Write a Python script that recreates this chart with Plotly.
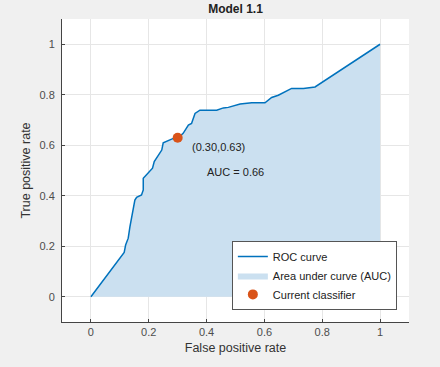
import plotly.graph_objects as go

fpr = [0.0, 0.115, 0.12, 0.129, 0.135, 0.144, 0.152, 0.158, 0.175, 0.181, 0.181,
       0.213, 0.219, 0.245, 0.25, 0.285, 0.302, 0.319, 0.325, 0.337, 0.348, 0.354,
       0.36, 0.377, 0.435, 0.458, 0.475, 0.516, 0.556, 0.602, 0.625, 0.648, 0.689,
       0.694, 0.735, 0.775, 1.0]
tpr = [0.0, 0.175, 0.205, 0.232, 0.278, 0.33, 0.383, 0.394, 0.403, 0.423, 0.469,
       0.509, 0.535, 0.581, 0.61, 0.627, 0.63, 0.647, 0.66, 0.68, 0.686, 0.706,
       0.726, 0.739, 0.739, 0.748, 0.75, 0.763, 0.768, 0.768, 0.789, 0.798, 0.821,
       0.825, 0.825, 0.831, 1.0]
current_fpr = [0.30]
current_tpr = [0.63]
auc_value = 0.66
tick_vals = [0, 0.2, 0.4, 0.6, 0.8, 1]
tick_text = ["0", "0.2", "0.4", "0.6", "0.8", "1"]

font_family = "Liberation Sans, Arial, sans-serif"

fig = go.Figure()
fig.add_trace(go.Scatter(
    x=fpr, y=tpr, mode="lines", fill="tozeroy",
    fillcolor="#cbe0f0", line=dict(width=0, color="#cbe0f0"),
    name="Area under curve (AUC)", legendrank=2, hoverinfo="skip"))
fig.add_trace(go.Scatter(
    x=fpr, y=tpr, mode="lines", line=dict(color="#0072BD", width=1.5),
    name="ROC curve", legendrank=1))
fig.add_trace(go.Scatter(
    x=current_fpr, y=current_tpr, mode="markers",
    marker=dict(color="#D95319", size=10),
    name="Current classifier", legendrank=3))

fig.add_annotation(x=current_fpr[0] + 0.043, y=current_tpr[0] - 0.035,
                   text=f"({current_fpr[0]:.2f},{current_tpr[0]:.2f})",
                   showarrow=False, xanchor="left", yanchor="middle",
                   font=dict(size=11, color="#222222", family=font_family))
fig.add_annotation(x=current_fpr[0] + 0.094, y=current_tpr[0] - 0.136,
                   text=f"AUC = {auc_value:.2f}",
                   showarrow=False, xanchor="left", yanchor="middle",
                   font=dict(size=11, color="#222222", family=font_family))

axis_common = dict(
    range=[-0.1, 1.1], tickvals=tick_vals, ticktext=tick_text,
    showgrid=True, gridcolor="#e6e6e6", gridwidth=1,
    zeroline=False, showline=True, linecolor="#444444", linewidth=1,
    ticks="inside", ticklen=3, tickcolor="#444444",
    tickfont=dict(size=11, color="#4d4d4d", family=font_family),
    mirror=False,
)

fig.update_layout(
    width=440, height=367,
    paper_bgcolor="#f0f0f0", plot_bgcolor="#ffffff",
    margin=dict(l=62, r=31, t=19, b=45),
    title=dict(text="<b>Model 1.1</b>", x=0.5, xanchor="center", xref="paper",
               y=0.975, yanchor="middle",
               font=dict(size=12, color="#222222", family=font_family)),
    xaxis=dict(title=dict(text="False positive rate", standoff=6,
                          font=dict(size=12.5, color="#333333", family=font_family)),
               **axis_common),
    yaxis=dict(title=dict(text="True positive rate", standoff=6,
                          font=dict(size=12.5, color="#333333", family=font_family)),
               ticklabelstandoff=4, **axis_common),
    legend=dict(x=0.965, y=0.04, xanchor="right", yanchor="bottom",
                bgcolor="#ffffff", bordercolor="#555555", borderwidth=1,
                font=dict(size=11, color="#222222", family=font_family),
                tracegroupgap=0, itemwidth=30),
    showlegend=True,
)

fig.write_html(
    "out.html",
    config={"displayModeBar": False},
    post_script="document.body.style.margin='0';document.body.style.background='#f0f0f0';",
)
